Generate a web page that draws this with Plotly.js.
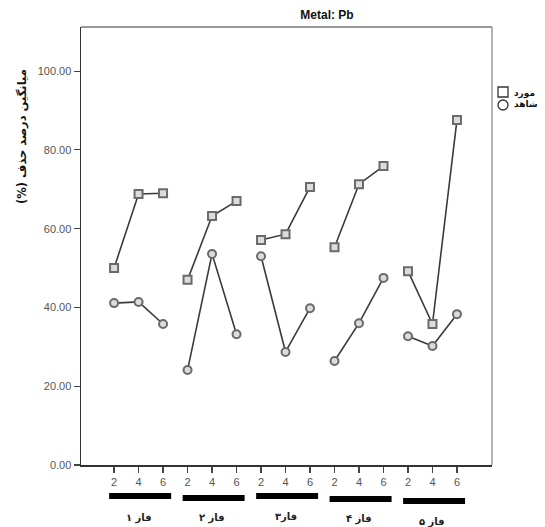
<!DOCTYPE html>
<html>
<head>
<meta charset="utf-8">
<script src="https://cdn.plot.ly/plotly-3.0.1.min.js"></script>
<style>html,body{margin:0;padding:0;background:#fff;}#chart{width:545px;height:527px;}</style>
</head>
<body>
<div id="chart"></div>
<script>
// Data
var groups = ["فاز ۱", "فاز ۲", "فاز۳", "فاز ۴", "فاز ۵"];
var times = ["2", "4", "6"];
var seriesNames = ["مورد", "شاهد"];
// مورد (squares)
var caseVals = [
  [50.0, 68.8, 69.0],
  [47.0, 63.2, 67.0],
  [57.1, 58.6, 70.6],
  [55.3, 71.3, 75.9],
  [49.2, 35.8, 87.6]
];
// شاهد (circles)
var ctrlVals = [
  [41.1, 41.4, 35.8],
  [24.1, 53.6, 33.2],
  [53.0, 28.7, 39.8],
  [26.4, 36.0, 47.5],
  [32.7, 30.2, 38.3]
];
var yTicks = [0, 20, 40, 60, 80, 100];

var traces = [];
var tickvals = [], ticktext = [];
groups.forEach(function(g, gi){
  times.forEach(function(t, ti){ tickvals.push(gi*3+ti); ticktext.push(t); });
});
function addSeries(vals, symbol, name){
  vals.forEach(function(row, gi){
    traces.push({
      x: times.map(function(_, ti){ return gi*3+ti; }),
      y: row,
      type: 'scatter', mode: 'lines+markers',
      line: {color: '#3a3a3a', width: 1.6},
      marker: {symbol: symbol, size: 8, color: '#dcdcdc', line: {color: '#6a6a6a', width: 2}},
      showlegend: false, hoverinfo: 'y', name: name
    });
  });
}
addSeries(caseVals, 'square', seriesNames[0]);
addSeries(ctrlVals, 'circle', seriesNames[1]);

function px(x){ return (x-81)/411; }
function py(y){ return (465-y)/438; }

var shapes = [], annotations = [];
var barY = [496, 498, 496, 499, 501];
var labY = [518, 518, 517, 519, 522];
groups.forEach(function(g, gi){
  shapes.push({type:'line', xref:'x', yref:'paper',
    x0: gi*3-0.2, x1: gi*3+2.33,
    y0: py(barY[gi]), y1: py(barY[gi]),
    line:{color:'#000', width:6}});
  annotations.push({xref:'x', yref:'paper', x: gi*3+1, y: py(labY[gi]),
    text: g, showarrow:false, xanchor:'center', yanchor:'middle',
    font:{family:'DejaVu Sans', size:10, color:'#222', weight:'bold'}});
});
annotations.push({xref:'paper', yref:'paper', x:px(22), y:py(137),
  text:'(%) میانگین درصد حذف', textangle:-90, showarrow:false,
  xanchor:'center', yanchor:'middle',
  font:{family:'DejaVu Sans', size:11.5, color:'#111', weight:'bold'}});

// manual legend
shapes.push({type:'rect', xref:'paper', yref:'paper', x0:px(498), x1:px(508), y0:py(97), y1:py(87),
  line:{color:'#333', width:1.3}, fillcolor:'rgba(0,0,0,0)'});
shapes.push({type:'circle', xref:'paper', yref:'paper', x0:px(498), x1:px(508), y0:py(110), y1:py(100),
  line:{color:'#333', width:1.3}, fillcolor:'rgba(0,0,0,0)'});
annotations.push({xref:'paper', yref:'paper', x:px(512), y:py(93), text:seriesNames[0], showarrow:false,
  xanchor:'left', yanchor:'middle', font:{family:'DejaVu Sans', size:9, color:'#111', weight:'bold'}});
annotations.push({xref:'paper', yref:'paper', x:px(512), y:py(104), text:seriesNames[1], showarrow:false,
  xanchor:'left', yanchor:'middle', font:{family:'DejaVu Sans', size:9, color:'#111', weight:'bold'}});

var layout = {
  width:545, height:527,
  margin:{l:81, r:53, t:27, b:62},
  paper_bgcolor:'#fff', plot_bgcolor:'#fff',
  title:{text:'Metal: Pb', x:327/545, xref:'container', xanchor:'center', y:1-15/527, yref:'container', yanchor:'middle',
    font:{family:'Liberation Sans', size:12, color:'#111', weight:'bold'}},
  xaxis:{range:[-1.35, 15.43], tickvals:tickvals, ticktext:ticktext, showgrid:false, zeroline:false,
    showline:true, linecolor:'#333', linewidth:1.5, mirror:false,
    ticks:'outside', ticklen:6, tickwidth:1.2, tickcolor:'#444',
    tickfont:{family:'Liberation Sans', size:11, color:'#555'}},
  yaxis:{range:[0, 111.2], tickvals:yTicks, ticktext:yTicks.map(function(v){return v.toFixed(2);}),
    showgrid:false, zeroline:false, showline:true, linecolor:'#333', linewidth:1.5,
    ticks:'outside', ticklen:6, tickwidth:1.2, tickcolor:'#444',
    tickfont:{family:'Liberation Sans', size:11, color:'#555'}},
  shapes: shapes.concat([
    {type:'line', xref:'paper', yref:'paper', x0:0, x1:1, y0:1, y1:1, line:{color:'#777', width:1.5}},
    {type:'line', xref:'paper', yref:'paper', x0:1, x1:1, y0:0, y1:1, line:{color:'#999', width:1.5}}
  ]),
  annotations: annotations,
  showlegend:false
};
Plotly.newPlot('chart', traces, layout, {displayModeBar:false, staticPlot:true});
</script>
</body>
</html>
